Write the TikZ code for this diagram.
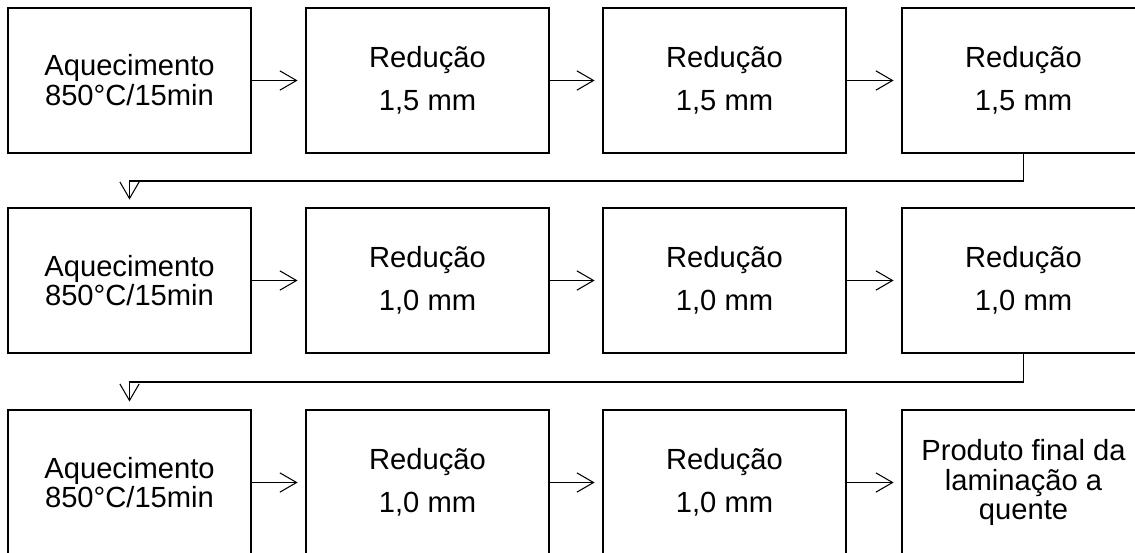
\documentclass[tikz,border=0pt]{standalone}
\usepackage{fontspec}
\setmainfont{Liberation Sans}
\usetikzlibrary{arrows.meta}

\begin{document}
\begin{tikzpicture}[x=0.02cm,y=-0.02cm,
    stage/.style={draw,line width=1.6pt,minimum width=4.86cm,minimum height=2.9cm,
      align=center,inner sep=0pt},
    heat/.style={stage,font=\fontsize{16.6}{17}\selectfont},
    pass/.style={stage,font=\fontsize{16.6}{24.4}\selectfont},
    final/.style={stage,font=\fontsize{16.6}{17}\selectfont},
    flow/.style={-{Straight Barb[length=9.5pt,width=11pt]},line width=0.6pt,shorten >=4pt}
]
\useasboundingbox (0,0) rectangle (1135,552);

% First row
\node[heat] (h1) at (129.5,80.5) {Aquecimento\\850°C/15min};
\node[pass] (r11) at (427.5,80.5) {Redução\\1,5 mm};
\node[pass] (r12) at (724.5,80.5) {Redução\\1,5 mm};
\node[pass] (r13) at (1023.5,80.5) {Redução\\1,5 mm};

% Second row
\node[heat] (h2) at (129.5,280.5) {Aquecimento\\850°C/15min};
\node[pass] (r21) at (427.5,280.5) {Redução\\1,0 mm};
\node[pass] (r22) at (724.5,280.5) {Redução\\1,0 mm};
\node[pass] (r23) at (1023.5,280.5) {Redução\\1,0 mm};

% Third row
\node[heat] (h3) at (129.5,482.5) {Aquecimento\\850°C/15min};
\node[pass] (r31) at (427.5,482.5) {Redução\\1,0 mm};
\node[pass] (r32) at (724.5,482.5) {Redução\\1,0 mm};
\node[final] (out) at (1023.5,482.5) {Produto final da\\laminação a\\quente};

% arrows along the rows
\draw[flow] (h1) -- (r11);
\draw[flow] (r11) -- (r12);
\draw[flow] (r12) -- (r13);
\draw[flow] (h2) -- (r21);
\draw[flow] (r21) -- (r22);
\draw[flow] (r22) -- (r23);
\draw[flow] (h3) -- (r31);
\draw[flow] (r31) -- (r32);
\draw[flow] (r32) -- (out);

% returns to the next row
\draw[flow] (r13.south) |- (129.5,181) -- (h2.north);
\draw[flow] (r23.south) |- (129.5,382) -- (h3.north);

\end{tikzpicture}
\end{document}
